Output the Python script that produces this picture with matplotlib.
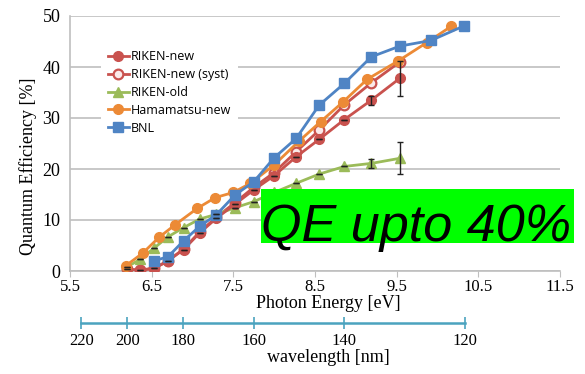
import numpy as np
import matplotlib.pyplot as plt
from matplotlib.patches import Rectangle

# photon energy [eV] / quantum efficiency [%]
e_riken = [6.20, 6.36, 6.53, 6.70, 6.89, 7.09, 7.29, 7.52, 7.75, 8.00, 8.27, 8.55, 8.86, 9.19, 9.54]
qe_riken_new = [0.3, 0.2, 0.5, 2.0, 4.2, 7.5, 10.3, 13.1, 15.9, 18.7, 22.4, 25.8, 29.7, 33.5, 37.8]
err_riken_new = [0, 0, 0, 0, 0, 0, 0, 0, 0, 0, 0, 0, 0, 0.9, 3.4]
qe_riken_syst = [0.3, 0.2, 0.5, 2.0, 4.3, 7.7, 10.5, 13.4, 16.4, 19.3, 23.4, 27.6, 32.6, 36.9, 41.0]
qe_riken_old = [0.8, 2.3, 4.5, 6.7, 8.5, 10.2, 11.1, 12.4, 13.6, 15.4, 17.2, 19.0, 20.5, 21.1, 22.1]
err_riken_old = [0, 0, 0, 0, 0, 0, 0, 0, 0, 0, 0, 0, 0, 0.9, 3.1]

e_hama = [6.18, 6.39, 6.59, 6.79, 7.06, 7.28, 7.50, 7.71, 8.00, 8.30, 8.57, 8.84, 9.14, 9.52, 9.87, 10.17]
qe_hama = [1.0, 3.5, 6.6, 9.1, 12.3, 14.4, 15.4, 17.2, 20.8, 25.4, 29.3, 33.1, 37.6, 41.2, 44.8, 48.0]

e_bnl = [6.53, 6.70, 6.89, 7.09, 7.29, 7.52, 7.75, 8.00, 8.27, 8.55, 8.86, 9.19, 9.54, 9.92, 10.33]
qe_bnl = [2.0, 2.8, 5.9, 8.8, 11.0, 14.9, 17.5, 22.2, 26.0, 32.5, 36.8, 42.0, 44.1, 45.2, 48.1]

e_ticks = [5.5, 6.5, 7.5, 8.5, 9.5, 10.5, 11.5]
wl_ticks = [220, 200, 180, 160, 140, 120]

RED = '#c9524e'
GREEN = '#9bbb59'
ORANGE = '#ec8a36'
BLUE = '#4f84c4'
SERIF = 'Liberation Serif'

W, H = 585, 374
fig = plt.figure(figsize=(W / 100, H / 100), dpi=100)

def px(x0, y0, x1, y1):
    # pixel box -> figure fraction
    return [x0 / W, 1 - y1 / H, (x1 - x0) / W, (y1 - y0) / H]

ax = fig.add_axes(px(70, 16, 560, 271))
lw, ms = 2.0, 7

ax.plot(e_riken, qe_riken_syst, color=RED, lw=lw, marker='o', ms=ms,
        mfc='#fbeaea', mec=RED, mew=1.6, label='RIKEN-new (syst)', zorder=3)
ax.plot(e_riken, qe_riken_new, color=RED, lw=lw, marker='o', ms=ms,
        label='RIKEN-new', zorder=4)
ax.errorbar(e_riken, qe_riken_new, yerr=err_riken_new, fmt='none',
            ecolor='#222222', elinewidth=1, capsize=2, zorder=5)
ax.plot(e_riken, qe_riken_old, color=GREEN, lw=lw, marker='^', ms=ms,
        label='RIKEN-old', zorder=3)
ax.errorbar(e_riken, qe_riken_old, yerr=err_riken_old, fmt='none',
            ecolor='#222222', elinewidth=1, capsize=2, zorder=5)
ax.plot(e_hama, qe_hama, color=ORANGE, lw=lw, marker='o', ms=ms,
        label='Hamamatsu-new', zorder=4)
ax.plot(e_bnl, qe_bnl, color=BLUE, lw=lw, marker='s', ms=ms - 0.5,
        label='BNL', zorder=4)

ax.set_xlim(5.5, 11.5)
ax.set_ylim(0, 50)
ax.set_xticks(e_ticks)
ax.set_xticklabels([str(v) for v in e_ticks], family=SERIF, fontsize=12)
ax.set_yticks([0, 10, 20, 30, 40, 50])
ax.set_yticklabels(['0', '10', '20', '30', '40', '50'], family=SERIF, fontsize=13)
ax.tick_params(axis='y', length=0, pad=7)
ax.tick_params(axis='x', length=4, color='#bfbfbf', pad=2)
ax.yaxis.grid(True, color='#bfbfbf', lw=1.2)
ax.set_axisbelow(True)
for s in ['top', 'right']:
    ax.spines[s].set_visible(False)
for s in ['left', 'bottom']:
    ax.spines[s].set_color('#bfbfbf')
    ax.spines[s].set_linewidth(1.2)

handles, labels = ax.get_legend_handles_labels()
order = [1, 0, 2, 3, 4]
leg = ax.legend([handles[i] for i in order], [labels[i] for i in order],
                loc='upper left', bbox_to_anchor=(95 / W, 1 - 38 / H),
                bbox_transform=fig.transFigure,
                prop={'family': 'Open Sans', 'size': 9}, frameon=True,
                facecolor='white', edgecolor='none', framealpha=1,
                handlelength=1.75, handletextpad=0.15, labelspacing=0.38,
                borderpad=0.5, fancybox=False)
leg.set_zorder(2)

fig.text(328 / W, 1 - 303 / H, 'Photon Energy [eV]', family=SERIF, fontsize=13,
         ha='center', va='center')
fig.text(28 / W, 1 - 166 / H, 'Quantum Efficiency [%]', family=SERIF, fontsize=13,
         ha='center', va='center', rotation=90)

# wavelength scale under the energy axis
TEAL = '#4ba3bf'
ax2 = fig.add_axes(px(70, 300, 560, 323))
ax2.set_xlim(5.5, 11.5)
ax2.set_ylim(0, 1)
ax2.patch.set_visible(False)
for s in ax2.spines.values():
    s.set_visible(False)
wl_pos = [1240 / w for w in wl_ticks]
ax2.plot([wl_pos[0], wl_pos[-1]], [0, 0], color=TEAL, lw=1.8, clip_on=False)
ax2.set_yticks([])
ax2.set_xticks(wl_pos)
ax2.set_xticklabels([str(w) for w in wl_ticks], family=SERIF, fontsize=12)
ax2.tick_params(axis='x', direction='inout', length=8, width=1.2, color=TEAL, pad=3)
fig.text(328 / W, 1 - 357 / H, 'wavelength [nm]', family=SERIF, fontsize=13,
         ha='center', va='center')

# highlight box
fig.patches.append(Rectangle((261 / W, 1 - 243 / H), 313 / W, 54 / H,
                             transform=fig.transFigure, facecolor='#00ff00',
                             edgecolor='none', zorder=10))
fig.text(261 / W, 1 - 241.5 / H, 'QE upto 40%', family='Liberation Sans',
         style='italic', fontsize=37.5, ha='left', va='baseline', zorder=11)

fig.savefig('out.png', dpi=100)
